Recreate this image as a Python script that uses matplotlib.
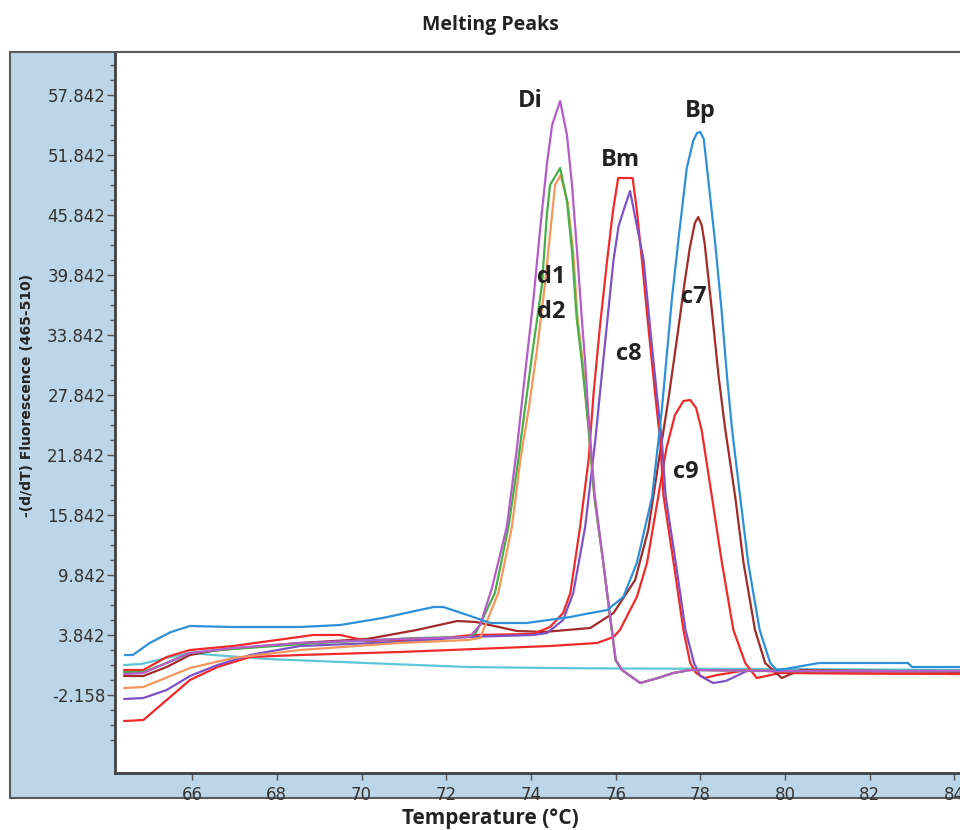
import matplotlib
matplotlib.use('Agg')
import matplotlib.pyplot as plt
from matplotlib.patches import Rectangle
from matplotlib.ticker import FixedLocator

plt.rcParams['axes.unicode_minus'] = False

# melting curves (temperature in C, -(d/dT) fluorescence)
cyan_x = [64.4, 64.8, 65.4, 65.95, 66.5, 67.77, 70.1, 72.5, 74.45, 76.0, 80.0, 84.2]
cyan_y = [0.8, 0.9, 1.5, 2.0, 1.8, 1.4, 1.0, 0.6, 0.5, 0.45, 0.4, 0.3]

di_x = [64.4, 64.85, 65.4, 65.95, 66.97, 68.55, 70.9, 72.55, 72.8, 73.08, 73.43, 73.67, 73.85,
        74.05, 74.22, 74.38, 74.5, 74.69, 74.85, 74.97, 75.09, 75.2, 75.28, 75.35, 75.44,
        75.5, 75.7, 75.9, 76.0, 76.15, 76.58, 77.0, 77.36, 77.76, 80.0, 84.2]
di_y = [-0.1, 0.0, 1.0, 2.0, 2.5, 3.0, 3.4, 3.6, 4.8, 8.5, 14.6, 22.5, 29.5,
        37.0, 44.5, 51.0, 54.8, 57.2, 53.8, 48.8, 42.1, 35.5, 31.1, 26.3, 21.3,
        18.0, 11.3, 4.6, 1.3, 0.3, -1.0, -0.5, 0.0, 0.3, 0.2, 0.2]

d1_x = [64.4, 64.85, 65.4, 65.95, 66.97, 68.95, 71.3, 72.5, 72.7, 73.15, 73.47, 73.7, 73.87,
        74.04, 74.26, 74.37, 74.45, 74.69, 74.85, 74.97, 75.08, 75.2, 75.35, 75.44, 75.5,
        75.7, 75.9, 76.0, 76.15, 76.58, 77.0, 77.36, 77.76, 80.0, 84.2]
d1_y = [0.1, 0.1, 1.0, 2.0, 2.4, 3.0, 3.5, 3.6, 4.0, 8.0, 14.6, 21.3, 26.8,
        32.2, 38.8, 45.5, 48.8, 50.5, 47.2, 42.2, 35.5, 31.2, 25.0, 20.5, 17.5,
        11.3, 4.6, 1.3, 0.3, -1.0, -0.5, 0.0, 0.3, 0.2, 0.2]

d2_x = [64.4, 64.85, 65.95, 66.97, 68.55, 70.9, 72.5, 72.8, 73.23, 73.55, 73.75, 73.95,
        74.14, 74.33, 74.49, 74.57, 74.7, 74.87, 75.0, 75.1, 75.22, 75.35, 75.44, 75.5,
        75.7, 75.9, 76.0, 76.15, 76.58, 77.0, 77.36, 77.76, 80.0, 84.2]
d2_y = [-1.5, -1.4, 0.5, 1.5, 2.3, 3.0, 3.3, 3.5, 8.0, 14.6, 21.3, 26.5,
        32.2, 38.8, 45.5, 48.8, 49.8, 47.0, 42.0, 35.5, 31.2, 25.0, 20.5, 17.5,
        11.3, 4.6, 1.3, 0.3, -1.0, -0.5, 0.0, 0.3, 0.2, 0.2]

bm_x = [64.4, 64.85, 65.4, 65.95, 66.97, 68.0, 68.86, 69.5, 70.13, 71.7, 72.6, 74.05, 74.45,
        74.76, 74.93, 75.16, 75.36, 75.48, 75.63, 75.8, 75.94, 76.06, 76.4, 76.5, 76.62,
        76.77, 76.93, 77.05, 77.13, 77.37, 77.6, 77.76, 77.9, 78.1, 78.4, 79.1, 80.5, 84.2]
bm_y = [0.3, 0.3, 1.6, 2.3, 2.7, 3.3, 3.8, 3.8, 3.2, 3.4, 3.8, 3.9, 4.6,
        6.0, 8.0, 14.6, 21.3, 28.0, 34.7, 41.3, 46.3, 49.5, 49.5, 46.3, 41.3,
        34.7, 28.0, 23.3, 17.7, 11.0, 4.3, 1.0, 0.0, -0.5, -0.2, 0.3, 0.0, -0.1]

c8_x = [64.4, 64.85, 65.4, 65.95, 66.6, 67.37, 68.55, 70.9, 72.5, 74.05, 74.38, 74.76, 75.0,
        75.28, 75.52, 75.63, 75.79, 75.95, 76.07, 76.19, 76.34, 76.66, 76.81, 76.97, 77.09,
        77.18, 77.42, 77.65, 77.85, 78.0, 78.3, 78.6, 79.1, 80.0, 84.2]
c8_y = [-2.6, -2.5, -1.7, -0.3, 0.8, 1.8, 2.7, 3.1, 3.6, 3.8, 4.0, 5.3, 8.0,
        14.6, 23.3, 28.0, 34.7, 41.3, 44.7, 46.3, 48.2, 41.3, 34.7, 28.0, 23.3,
        17.7, 11.0, 4.3, 1.0, -0.3, -1.0, -0.8, 0.2, 0.2, 0.2]

bp_x = [64.42, 64.6, 65.0, 65.5, 65.95, 66.97, 68.55, 69.5, 70.5, 71.7, 71.93, 72.5, 73.04,
        73.9, 74.93, 75.16, 75.8, 76.18, 76.5, 76.86, 77.09, 77.19, 77.33, 77.5, 77.68,
        77.83, 77.92, 78.0, 78.08, 78.18, 78.35, 78.5, 78.63, 78.75, 78.94, 79.13, 79.4, 79.65,
        79.8, 80.0, 80.8, 82.9, 83.0, 84.2]
bp_y = [1.8, 1.8, 3.0, 4.1, 4.7, 4.6, 4.6, 4.8, 5.5, 6.6, 6.6, 5.8, 5.0,
        5.0, 5.6, 5.8, 6.3, 7.6, 11.0, 17.6, 26.3, 31.0, 37.5, 44.0, 50.5,
        53.2, 54.0, 54.1, 53.4, 49.6, 43.0, 36.3, 29.6, 24.3, 17.6, 11.0, 4.3, 1.0,
        0.3, 0.4, 1.0, 1.0, 0.6, 0.6]

c7_x = [64.4, 64.85, 65.4, 65.95, 66.6, 68.55, 70.13, 71.3, 72.26, 72.7, 73.67, 74.3, 75.4,
        75.95, 76.46, 76.77, 77.01, 77.25, 77.45, 77.62, 77.75, 77.87, 77.95, 78.03, 78.1,
        78.27, 78.43, 78.58, 78.82, 79.02, 79.29, 79.53, 79.92, 80.36, 84.2]
c7_y = [-0.3, -0.3, 0.6, 1.8, 2.3, 3.0, 3.4, 4.3, 5.2, 5.1, 4.2, 4.1, 4.5,
        6.0, 9.3, 14.3, 21.0, 27.5, 33.5, 38.8, 42.5, 45.0, 45.6, 44.8, 43.0,
        36.3, 29.7, 24.6, 17.7, 11.0, 4.3, 1.0, -0.5, 0.3, 0.1]

c9_x = [64.4, 64.85, 65.4, 65.95, 66.6, 67.37, 68.55, 70.9, 72.1, 74.45, 75.56, 75.95, 76.1,
        76.5, 76.74, 77.0, 77.2, 77.4, 77.6, 77.76, 77.9, 78.03, 78.27, 78.51, 78.78, 79.06,
        79.33, 79.88, 84.2]
c9_y = [-4.8, -4.7, -2.7, -0.7, 0.6, 1.6, 1.8, 2.1, 2.3, 2.7, 3.0, 3.6, 4.3,
        7.6, 11.0, 17.5, 22.5, 25.8, 27.2, 27.3, 26.5, 24.3, 17.7, 11.0, 4.3, 1.0,
        -0.5, 0.0, -0.1]

curves = [
    (cyan_x, cyan_y, '#5ec6d6'),
    (c9_x, c9_y, '#f02a2a'),
    (c7_x, c7_y, '#a32a2a'),
    (bm_x, bm_y, '#f02a2a'),
    (c8_x, c8_y, '#7c52c6'),
    (d2_x, d2_y, '#f5975c'),
    (d1_x, d1_y, '#46b046'),
    (di_x, di_y, '#b45cc8'),
    (bp_x, bp_y, '#2e90d8'),
]

peak_names = ['Di', 'Bm', 'Bp', 'd1', 'd2', 'c8', 'c7', 'c9']
name_x = [73.98, 76.11, 78.0, 74.48, 74.48, 76.3, 77.85, 77.66]
name_y = [57.2, 51.3, 56.2, 39.6, 36.1, 31.9, 37.6, 20.1]

ytick_vals = [-2.158, 3.842, 9.842, 15.842, 21.842, 27.842, 33.842, 39.842, 45.842, 51.842, 57.842]
xtick_vals = [66, 68, 70, 72, 74, 76, 78, 80, 82, 84]

fig = plt.figure(figsize=(9.6, 8.3), dpi=100)

# light blue frame behind the plot
panel = Rectangle((10 / 960, 32 / 830), 1.2, 746 / 830, transform=fig.transFigure,
                  facecolor='#bcd6e8', edgecolor='#5a5a5a', linewidth=1.5, zorder=-1)
fig.add_artist(panel)

ax = fig.add_axes([115 / 960, 57 / 830, 845 / 960, 721 / 830])
ax.set_facecolor('white')
for x, y, c in curves:
    ax.plot(x, y, color=c, linewidth=1.6)

ax.set_xlim(64.18, 84.13)
ax.set_ylim(-10, 62.1)

ax.yaxis.set_major_locator(FixedLocator(ytick_vals))
ax.set_yticklabels(['%.3f' % v for v in ytick_vals])
ax.yaxis.set_minor_locator(FixedLocator([v + k * 1.5 for v in [-8.158] + ytick_vals for k in range(1, 4)]))
ax.xaxis.set_major_locator(FixedLocator(xtick_vals))
ax.set_xticklabels([str(v) for v in xtick_vals])

ax.tick_params(axis='y', which='major', direction='out', length=6, width=1, color='#555555',
               labelsize=12, labelcolor='#333333', pad=1)
ax.tick_params(axis='y', which='minor', direction='out', length=3.5, width=1, color='#555555')
ax.tick_params(axis='x', which='major', direction='out', length=5, width=1, color='#555555',
               labelsize=12, labelcolor='#333333', pad=4)

for s in ['left', 'bottom']:
    ax.spines[s].set_linewidth(2)
    ax.spines[s].set_color('#404040')
ax.spines['top'].set_linewidth(1.5)
ax.spines['top'].set_color('#5a5a5a')
ax.spines['right'].set_visible(False)

for name, tx, ty in zip(peak_names, name_x, name_y):
    ax.text(tx, ty, name, ha='center', va='center', fontsize=17, fontweight='bold',
            family='Open Sans', color='#222222')

fig.text(490 / 960, 1 - 25 / 830, 'Melting Peaks', ha='center', va='center',
         fontsize=14, fontweight='bold', family='Open Sans', color='#222222')
fig.text(490 / 960, 1 - 818 / 830, 'Temperature (°C)', ha='center', va='center',
         fontsize=15, fontweight='bold', family='Open Sans', color='#222222')
fig.text(27 / 960, 1 - 395 / 830, '-(d/dT) Fluorescence (465-510)', rotation=90,
         ha='center', va='center', fontsize=10, fontweight='bold', color='#222222')

fig.savefig('out.png', dpi=100)
